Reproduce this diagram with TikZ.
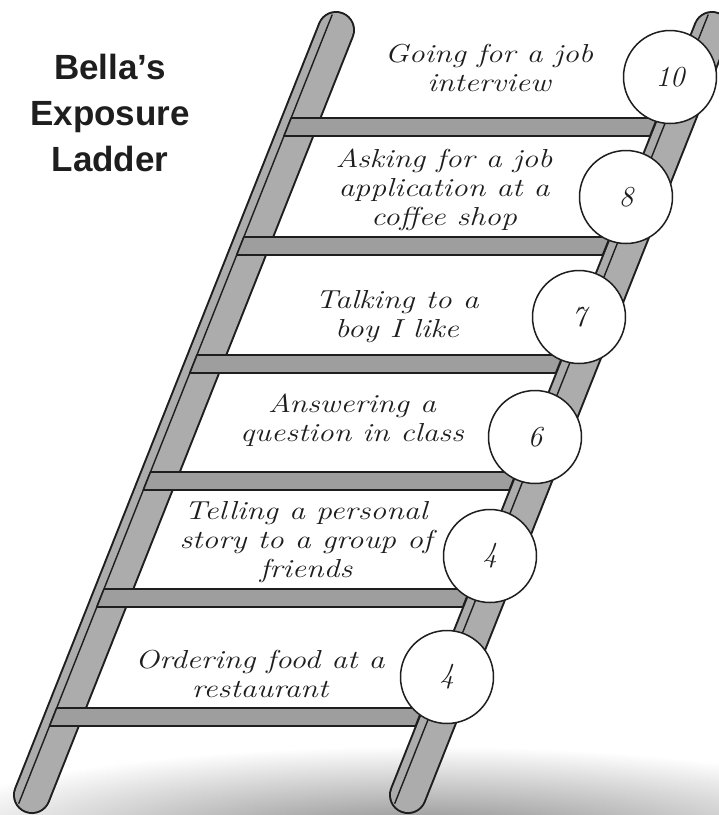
\documentclass[tikz,border=0pt]{standalone}
\usepackage{fontspec}
\usepackage{graphicx}
\usetikzlibrary{calc}
\newfontfamily\titlefont{Liberation Sans}
\definecolor{railgray}{RGB}{172,172,172}
\definecolor{runggray}{RGB}{158,158,158}
\definecolor{inkc}{RGB}{30,30,30}
\newcommand\handtext[1]{{\fontsize{26}{29}\selectfont\itshape\scalebox{1.22}[1]{\begin{tabular}{@{}c@{}}#1\end{tabular}}}}
\tikzset{
  railout/.style={line width=38pt, line cap=round, draw=inkc},
  railin/.style={line width=34pt, line cap=round, draw=railgray},
  raildiv/.style={line width=1.4pt, draw=inkc, shorten <=-13pt, shorten >=-13pt},
  rungbar/.style={fill=runggray, draw=inkc, line width=1.6pt, line join=round},
  score/.style={circle, draw=inkc, fill=white, line width=1.5pt, minimum size=93pt, inner sep=0pt, font=\fontsize{29}{32}\selectfont\itshape, text=inkc},
  lbl/.style={inner sep=0pt, text=inkc},
  titletext/.style={align=center, inner sep=0pt, text=inkc, font=\titlefont\fontsize{35}{46}\selectfont\bfseries},
}
\begin{document}
\begin{tikzpicture}[x=1pt,y=-1pt]
\useasboundingbox (0,0) rectangle (719,815);
\clip (0,0) rectangle (719,815);
% floor shadow
\shade[inner color=black!48, outer color=white] (420,838) ellipse [x radius=520, y radius=92];
% rails
\coordinate (LT) at (336,30);
\coordinate (LB) at (32,795);
\coordinate (RT) at (712,30);
\coordinate (RB) at (408,795);
\foreach \a/\b in {LT/LB, RT/RB} {
  \draw[railout] (\a) -- (\b);
  \draw[railin] (\a) -- (\b);
  \draw[raildiv] ($(\a)!9.2pt!-90:(\b)$) -- ($(\b)!9.2pt!90:(\a)$);
}
% rungs
\foreach \c in {127,246,364,481,598,717} {
  \pgfmathsetmacro\xa{347.93-0.3974*(\c-9)}
  \pgfmathsetmacro\xb{347.93-0.3974*(\c+9)}
  \draw[rungbar] (\xa-9.9,\c-9) -- (\xa+356,\c-9) -- (\xb+356,\c+9) -- (\xb-9.9,\c+9) -- cycle;
}
% score circles
\node[score] (c10) at (670,77) {10};
\node[score] (c8) at (626,197) {8};
\node[score] (c7) at (579,317) {7};
\node[score] (c6) at (535,437) {6};
\node[score] (c4a) at (490,556) {4};
\node[score] (c4b) at (447,677) {4};
% labels
\node[lbl] (s10) at (489,71) {\handtext{Going for a job\\interview}};
\node[lbl] (s8) at (444,191) {\handtext{Asking for a job\\application at a\\coffee shop}};
\node[lbl] (s7) at (397,317) {\handtext{Talking to a\\boy I like}};
\node[lbl] (s6) at (352,421) {\handtext{Answering a\\question in class}};
\node[lbl] (s4a) at (306,543) {\handtext{Telling a personal\\story to a group of\\friends}};
\node[lbl] (s4b) at (260,677) {\handtext{Ordering food at a\\restaurant}};
% title
\node[titletext] (title) at (110,113) {Bella’s\\Exposure\\Ladder};
\end{tikzpicture}
\end{document}
